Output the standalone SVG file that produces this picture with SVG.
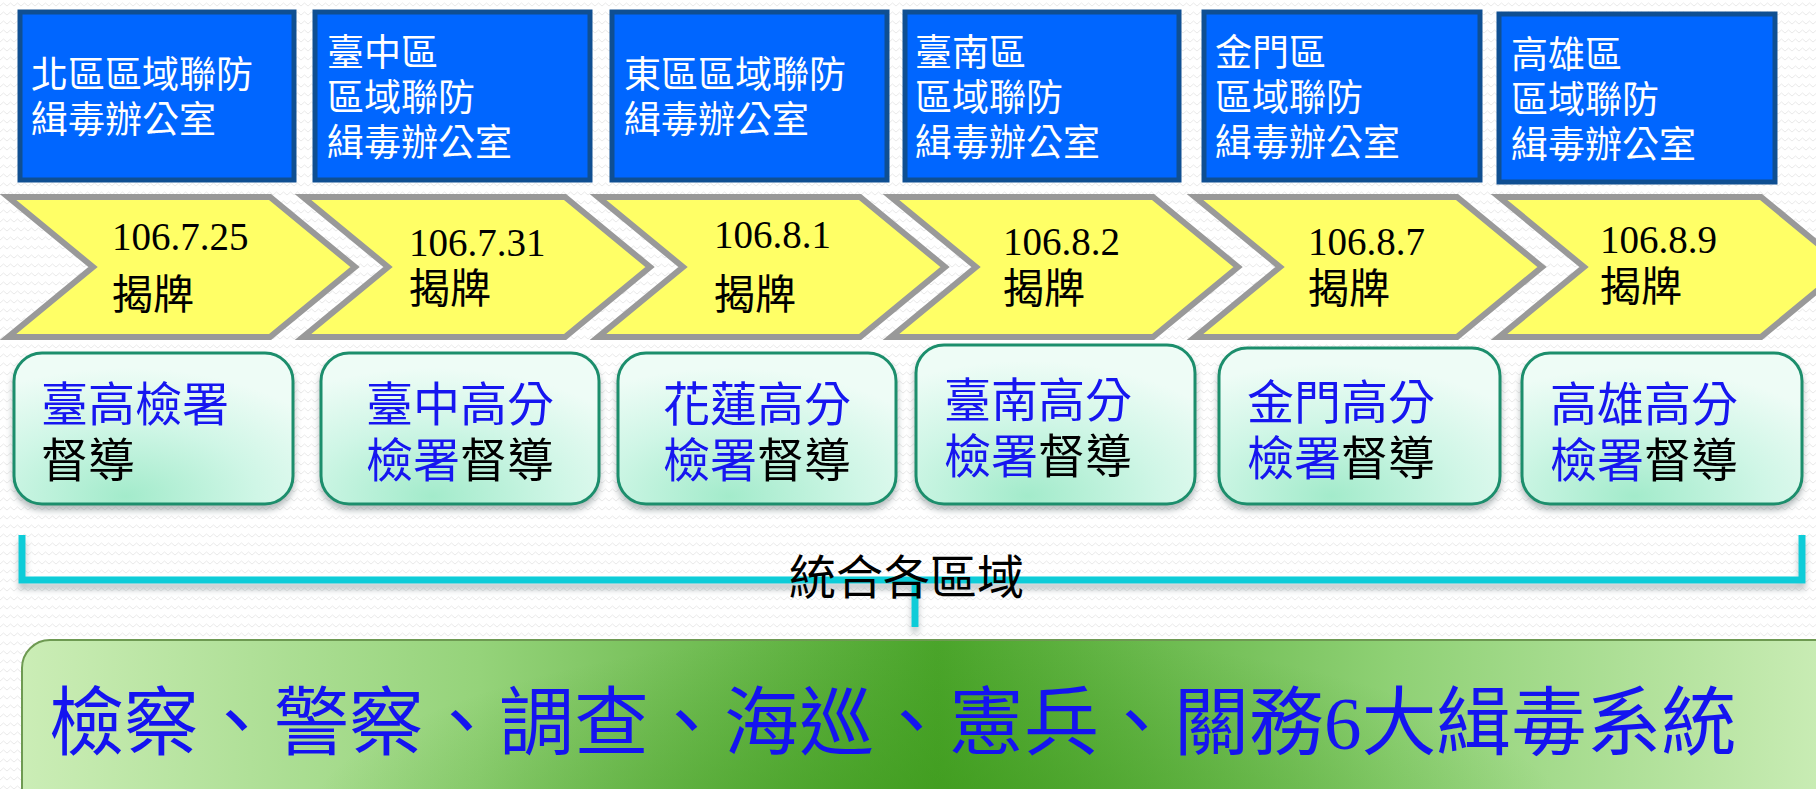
<svg xmlns="http://www.w3.org/2000/svg" width="1816" height="789" viewBox="0 0 1816 789">
<defs>
<pattern id="bgp" width="14" height="9" patternUnits="userSpaceOnUse">
<rect width="14" height="9" fill="#FFFFFF"/>
<polyline points="0,6 3.5,3 7,6 10.5,3 14,6" fill="none" stroke="#EAEAEA" stroke-width="1"/>
</pattern>
<radialGradient id="mint" cx="0.4" cy="0.95" r="0.85">
<stop offset="0" stop-color="#A3EBCB"/>
<stop offset="0.55" stop-color="#CFF6E6"/>
<stop offset="1" stop-color="#EEFCF6"/>
</radialGradient>
<linearGradient id="bigh" x1="0" y1="0" x2="1" y2="0">
<stop offset="0" stop-color="#CBEDB6"/>
<stop offset="0.25" stop-color="#95D37A"/>
<stop offset="0.5" stop-color="#4BA52B"/>
<stop offset="0.75" stop-color="#8FD175"/>
<stop offset="1" stop-color="#CDEEB9"/>
</linearGradient>
<radialGradient id="bigr" cx="0.5" cy="1" r="0.35" gradientTransform="translate(0.5 1) scale(1 3) translate(-0.5 -1)">
<stop offset="0" stop-color="#3A9818" stop-opacity="0.7"/>
<stop offset="1" stop-color="#3A9818" stop-opacity="0"/>
</radialGradient>
<filter id="sh" x="-5%" y="-10%" width="110%" height="130%">
<feDropShadow dx="0" dy="5" stdDeviation="3" flood-color="#5A6A70" flood-opacity="0.45"/>
</filter>
<filter id="shl" x="-2%" y="-30%" width="104%" height="200%">
<feDropShadow dx="0" dy="6" stdDeviation="3" flood-color="#6A7A80" flood-opacity="0.45"/>
</filter>
</defs>
<style>
.blue{fill:#0066FF;stroke:#0F4F92;stroke-width:5}
.cjk{font-family:"Liberation Sans","Noto Sans CJK TC","Noto Sans CJK SC",sans-serif}
.wt{fill:#FFFFFF;font-size:37px}
.chev{fill:#FFFF66;stroke:#999999;stroke-width:6;stroke-linejoin:miter}
.ct{fill:#000000;font-size:41px}
.num{font-family:"Liberation Serif",serif;font-size:39px}
.gb{fill:url(#mint);stroke:#1A8E6C;stroke-width:3}
.gt{font-size:47px;fill:#1414F0}
.bk{fill:#000000}
.cy{fill:none;stroke:#0CCCD8;stroke-width:7}
</style>
<rect width="1816" height="789" fill="url(#bgp)"/>

<g id="office1"><rect class="blue" x="20" y="12" width="274" height="168"/><text class="cjk wt" x="31" y="88">北區區域聯防<tspan x="31" dy="45">緝毒辦公室</tspan></text></g>
<g id="office2"><rect class="blue" x="315" y="12" width="275" height="168"/><text class="cjk wt" x="327" y="66">臺中區<tspan x="327" dy="45">區域聯防</tspan><tspan x="327" dy="45">緝毒辦公室</tspan></text></g>
<g id="office3"><rect class="blue" x="612" y="12" width="275" height="168"/><text class="cjk wt" x="624" y="88">東區區域聯防<tspan x="624" dy="45">緝毒辦公室</tspan></text></g>
<g id="office4"><rect class="blue" x="905" y="12" width="274" height="168"/><text class="cjk wt" x="915" y="66">臺南區<tspan x="915" dy="45">區域聯防</tspan><tspan x="915" dy="45">緝毒辦公室</tspan></text></g>
<g id="office5"><rect class="blue" x="1204" y="12" width="276" height="168"/><text class="cjk wt" x="1215" y="66">金門區<tspan x="1215" dy="45">區域聯防</tspan><tspan x="1215" dy="45">緝毒辦公室</tspan></text></g>
<g id="office6"><rect class="blue" x="1499" y="14" width="276" height="168"/><text class="cjk wt" x="1511" y="68">高雄區<tspan x="1511" dy="45">區域聯防</tspan><tspan x="1511" dy="45">緝毒辦公室</tspan></text></g>

<g id="chev1"><path class="chev" d="M8,197 L270,197 L355,267 L270,337 L8,337 L93,267 Z"/><text class="cjk ct" x="112" y="250"><tspan class="num">106.7.25</tspan><tspan x="112" dy="59">揭牌</tspan></text></g>
<g id="chev2"><path class="chev" d="M303,197 L565,197 L650,267 L565,337 L303,337 L388,267 Z"/><text class="cjk ct" x="409" y="256"><tspan class="num">106.7.31</tspan><tspan x="409" dy="47">揭牌</tspan></text></g>
<g id="chev3"><path class="chev" d="M598,197 L860,197 L945,267 L860,337 L598,337 L683,267 Z"/><text class="cjk ct" x="714" y="248"><tspan class="num">106.8.1</tspan><tspan x="714" dy="61">揭牌</tspan></text></g>
<g id="chev4"><path class="chev" d="M891,197 L1153,197 L1238,267 L1153,337 L891,337 L976,267 Z"/><text class="cjk ct" x="1003" y="255"><tspan class="num">106.8.2</tspan><tspan x="1003" dy="48">揭牌</tspan></text></g>
<g id="chev5"><path class="chev" d="M1195,197 L1457,197 L1542,267 L1457,337 L1195,337 L1280,267 Z"/><text class="cjk ct" x="1308" y="255"><tspan class="num">106.8.7</tspan><tspan x="1308" dy="48">揭牌</tspan></text></g>
<g id="chev6"><path class="chev" d="M1499,197 L1761,197 L1846,267 L1761,337 L1499,337 L1584,267 Z"/><text class="cjk ct" x="1600" y="253"><tspan class="num">106.8.9</tspan><tspan x="1600" dy="48">揭牌</tspan></text></g>

<g id="sup1" filter="url(#sh)"><rect class="gb" x="14" y="353" width="279" height="151" rx="28"/><text class="cjk gt" x="41" y="421">臺高檢署<tspan class="bk" x="41" dy="56">督導</tspan></text></g>
<g id="sup2" filter="url(#sh)"><rect class="gb" x="321" y="353" width="278" height="151" rx="28"/><text class="cjk gt" x="366" y="421">臺中高分<tspan x="366" dy="56">檢署</tspan><tspan class="bk">督導</tspan></text></g>
<g id="sup3" filter="url(#sh)"><rect class="gb" x="618" y="353" width="278" height="151" rx="28"/><text class="cjk gt" x="663" y="421">花蓮高分<tspan x="663" dy="56">檢署</tspan><tspan class="bk">督導</tspan></text></g>
<g id="sup4" filter="url(#sh)"><rect class="gb" x="916" y="345" width="279" height="159" rx="28"/><text class="cjk gt" x="944" y="417">臺南高分<tspan x="944" dy="56">檢署</tspan><tspan class="bk">督導</tspan></text></g>
<g id="sup5" filter="url(#sh)"><rect class="gb" x="1219" y="348" width="281" height="156" rx="28"/><text class="cjk gt" x="1247" y="419">金門高分<tspan x="1247" dy="56">檢署</tspan><tspan class="bk">督導</tspan></text></g>
<g id="sup6" filter="url(#sh)"><rect class="gb" x="1522" y="353" width="280" height="151" rx="28"/><text class="cjk gt" x="1550" y="421">高雄高分<tspan x="1550" dy="56">檢署</tspan><tspan class="bk">督導</tspan></text></g>

<g id="connectors" filter="url(#shl)">
<path class="cy" d="M22,535 L22,580 L1802,580 L1802,535"/>
<path class="cy" d="M915,580 L915,627"/>
</g>
<text class="cjk" x="789" y="594" font-size="47" fill="#000000">統合各區域</text>

<g id="systems">
<rect x="22" y="640" width="1830" height="200" rx="28" fill="url(#bigh)" stroke="#6E9A52" stroke-width="2"/>
<rect x="22" y="640" width="1830" height="200" rx="28" fill="url(#bigr)"/>
<text class="cjk" x="49" y="749" font-size="75" fill="#1414F0">檢察、警察、調查、海巡、憲兵、關務<tspan font-family="&quot;Liberation Serif&quot;,serif">6</tspan>大緝毒系統</text>
</g>
</svg>
